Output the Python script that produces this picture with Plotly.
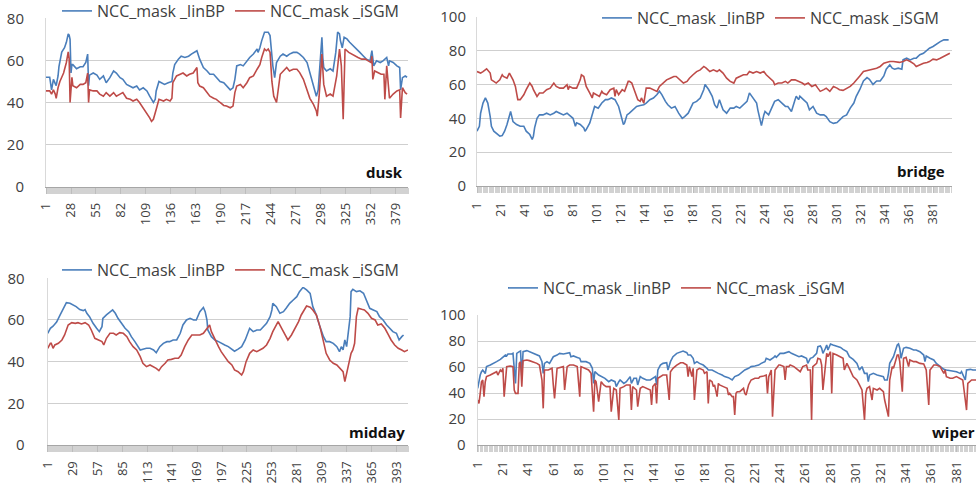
import plotly.graph_objects as go

# ---------------- data (frame index, NCC value) ----------------
dusk_ticks = [1, 28, 55, 82, 109, 136, 163, 190, 217, 244, 271, 298, 325, 352, 379]
bridge_ticks = [1, 21, 41, 61, 81, 101, 121, 141, 161, 181, 201, 221, 241, 261, 281, 301, 321, 341, 361, 381]
midday_ticks = [1, 29, 57, 85, 113, 141, 169, 197, 225, 253, 281, 309, 337, 365, 393]
wiper_ticks = [1, 21, 41, 61, 81, 101, 121, 141, 161, 181, 201, 221, 241, 261, 281, 301, 321, 341, 361, 381]

series_names = ["NCC_mask _linBP", "NCC_mask _iSGM"]

dusk_linbp = [(1,52),(5,52),(7,46),(9,51),(11,49),(12,48),(14,52.6),(15,57),(18,64),(20,65),(21,66),(23,68.6),(25,72.6),(26,72),(27,70),(28,54),(29,58),(30,58),(34,56),(38,57),(41,57),(44,59),(46,63),(47,48),(48,53),(52,54),(56,53),(59,51),(63,52.6),(66,49.4),(70,51.8),(74,55),(77,54),(81,51.8),(84,51),(88,48.6),(92,47.8),(95,47),(99,47.8),(102,46),(106,47),(110,45.5),(113,43),(115,41.5),(117,40),(119,41.5),(120,45.5),(123,50),(126,49.4),(129,48.6),(133,49.4),(137,50),(138,54),(140,58),(144,60.6),(147,62),(151,61.4),(155,62),(158,63),(162,64),(164,64.6),(167,60.6),(171,56.6),(175,55),(178,53.4),(182,53.4),(185,51.8),(189,50),(193,49.4),(196,47.8),(200,46),(203,47),(205,51),(207,57.4),(211,58),(214,57.4),(218,59.8),(221,61.4),(225,63),(229,65.4),(230,63.8),(232,66),(234,69.4),(236,71.8),(237,73.4),(239,73.4),(241,73.4),(243,71.8),(244,65.4),(246,57.4),(248,51.8),(250,59),(254,62),(257,63),(261,62),(264,63),(268,63.8),(272,63.8),(275,63),(279,61.4),(283,59),(286,54.2),(290,48.6),(292,45.5),(293,43),(295,46),(297,59),(299,71),(300,61.4),(301,56.6),(304,55),(308,56),(311,55),(314,63.8),(316,73.4),(318,72.6),(319,69.4),(321,66),(323,71),(326,70.2),(329,68.6),(333,67),(337,65.4),(340,63.8),(344,62),(347,60.6),(351,59.8),(353,64.6),(355,57.4),(358,59.8),(362,59),(365,59.8),(369,61.4),(371,57.4),(372,59.8),(376,59),(380,57.4),(383,56.6),(384,46),(386,51.8),(389,52.6),(391,52)]
dusk_isgm = [(1,45.5),(5,45.5),(7,44),(9,46),(11,44),(12,42),(14,47),(16,50),(20,54),(23,59),(25,64),(26,61),(27,40),(29,52),(30,48),(34,47),(38,48.6),(41,48.6),(44,49.4),(46,54),(47,40),(48,46),(52,45.5),(56,45.5),(59,44),(63,43),(66,44.7),(70,43),(74,44.7),(77,43),(81,44),(84,44.7),(88,42),(92,41.5),(95,40.7),(99,41.5),(102,40),(106,37.5),(110,35),(113,32.7),(115,31),(117,32),(120,36.7),(123,41.5),(128,40.7),(131,41.5),(135,40.7),(137,42),(138,49.4),(142,52.6),(146,53.4),(149,54),(153,52.6),(156,53.4),(160,54),(164,56.6),(165,49.4),(167,47.8),(171,47),(175,44.7),(178,43),(182,42),(185,41.5),(189,40),(193,38.6),(196,38.3),(200,37.5),(203,38.3),(205,44.7),(207,47.8),(211,48.6),(214,47),(218,49.4),(221,51.8),(225,52.6),(229,55.8),(232,58),(234,61.4),(236,63.8),(237,65.4),(239,64.6),(241,65.4),(243,63.8),(245,50),(247,43),(250,40),(254,53.4),(257,55),(261,56.6),(264,55),(268,55.8),(272,55.8),(275,54.2),(279,51),(283,46),(286,42),(290,39),(293,36),(294,33.5),(296,43),(299,63),(301,48.6),(304,43),(308,44),(311,43),(315,52.6),(318,65.4),(320,57.4),(322,32),(324,65.4),(328,63.8),(331,63),(335,62),(338,61.4),(342,60.6),(346,60.6),(349,59.8),(352,59),(353,62),(354,51),(356,55),(360,54.2),(363,53.4),(366,53.4),(367,41.5),(369,57.4),(372,42),(376,44),(380,45.5),(383,46),(384,32.7),(386,47),(389,44.7),(391,44)]

bridge_linbp = [(1,32.4),(3,35.3),(4,43),(6,49),(8,52),(10,49),(12,41),(13,35.3),(15,32.4),(17,31.4),(20,29.4),(22,29.8),(24,32.4),(26,36.3),(28,42),(29,44),(31,38),(34,36.3),(37,35.3),(40,35.3),(42,32.4),(45,30.4),(47,27.5),(48,29.4),(49,34.3),(51,40),(53,42),(56,42),(59,43),(62,42),(65,43),(67,44),(70,43),(73,42),(76,43),(78,42),(81,40),(83,35.3),(84,37.3),(87,36.3),(90,34.3),(91,32.4),(92,33.3),(95,37.3),(98,45),(99,47),(102,46),(105,49),(108,51),(110,51),(113,52),(116,51),(119,47),(121,41),(123,36.3),(124,37.3),(126,42),(128,43),(131,45),(134,47),(137,47.5),(140,48),(142,49),(145,51),(148,52),(151,54),(153,56),(155,54),(158,50),(160,48),(163,46),(166,47),(169,43),(172,40),(174,41),(177,43),(181,49),(184,50),(187,52),(190,57),(191,60),(194,57),(197,53),(199,48),(201,46),(202,49),(203,51),(205,47),(206,45),(209,43),(212,46),(215,46),(217,47),(220,46),(223,48),(226,50),(228,55),(231,52),(234,49),(235,45),(237,39),(238,35.7),(240,42),(241,44),(244,42),(247,47),(249,50),(252,51),(255,49),(258,47),(260,47),(263,44),(266,51),(267,53),(269,51),(270,53),(273,51),(276,49),(278,45),(281,47),(284,43),(287,42),(290,42),(292,41),(295,38),(298,37),(301,37.5),(303,39),(306,41),(309,42),(312,46),(315,49),(317,53),(320,57),(323,62),(326,64),(328,63),(331,60),(334,62),(337,62),(340,65),(342,69),(345,71.6),(347,69.6),(349,69),(352,69.6),(355,69),(356,74.5),(359,75.5),(362,74.5),(365,75.5),(367,75.5),(370,77.5),(373,78.4),(376,80.4),(378,81.4),(381,82.4),(384,84),(387,85.3),(390,86.3),(394,86.3)]
bridge_isgm = [(1,67.6),(4,66.7),(6,67.6),(9,69.2),(12,66.7),(13,62.7),(15,61.8),(17,60.8),(20,62.7),(22,65.7),(23,64.7),(26,63.7),(28,66.7),(31,62.7),(33,58.8),(34,54.9),(35,51),(37,51),(40,53.9),(42,56.9),(45,60.8),(47,58.8),(48,56.9),(51,52.9),(53,54.9),(56,54.9),(59,56.9),(62,57.8),(65,60.8),(67,58.8),(70,57.8),(73,57.8),(76,59.8),(77,56.9),(78,58.8),(81,57.8),(84,57.8),(87,62.7),(88,65.7),(90,64.7),(91,60.8),(92,58.8),(95,54.9),(97,52),(98,54.9),(101,53.9),(103,52.9),(105,55.9),(106,54.9),(109,53.9),(112,56.9),(115,57.8),(116,52.9),(117,56.9),(119,53.9),(120,54.9),(122,56.9),(124,55.9),(127,61.8),(128,61.8),(130,60.8),(131,58.8),(133,54.9),(134,52.9),(135,51),(137,50),(138,52),(140,49),(141,53.9),(142,57.8),(145,57.8),(148,56.9),(151,55.9),(153,58.8),(156,60.8),(159,62.7),(162,63.7),(165,64.7),(167,64.7),(170,62.7),(173,60.8),(176,61.8),(178,63.7),(181,65.7),(184,67.6),(187,68.6),(190,70.6),(192,69.6),(195,67.6),(198,68.6),(201,67.6),(203,68.6),(206,66.7),(209,63.7),(212,61.8),(215,60.8),(217,63.7),(220,64.7),(223,65.7),(226,65.7),(228,67.6),(231,66.7),(234,67.6),(237,66.7),(240,67.6),(242,65.7),(245,63.7),(248,61.8),(249,59.8),(252,60.8),(255,60.8),(258,61.8),(260,60.8),(263,62.7),(266,62.7),(269,61.8),(272,60.8),(274,59.8),(277,60.8),(280,58.8),(283,59.8),(285,57.8),(287,55.9),(290,56.9),(292,57.8),(295,55.9),(298,58.8),(301,57.8),(303,56.9),(306,56.5),(309,57.8),(312,58.8),(315,60.8),(317,62.7),(320,65),(323,67.6),(326,68.2),(328,68.2),(331,69),(334,69.6),(337,70.6),(340,72.5),(342,73),(345,73.5),(348,73.5),(351,73),(353,73),(356,73.5),(359,74.5),(362,73.5),(365,72.2),(367,70.6),(370,71.6),(373,72.5),(376,73),(378,73.5),(381,74.9),(384,74.5),(387,75.5),(390,76.5),(392,77.5),(395,78.4)]

midday_linbp = [(1,53.6),(4,56),(7,57),(11,59),(15,62.4),(19,65.6),(22,68.3),(26,68),(30,67.2),(33,66.4),(37,65),(41,64.5),(43,65),(45,63.2),(48,61.6),(52,58.4),(56,56),(59,54.4),(62,56.8),(63,60.8),(67,62.4),(71,64),(74,64.8),(77,63.2),(80,60.8),(84,58.4),(88,56),(92,54.4),(95,52),(99,49.6),(103,47.2),(105,45.6),(108,46),(112,46.4),(116,46.4),(120,45.6),(123,44.3),(127,47.2),(131,48.8),(135,49.6),(138,49.6),(142,50.4),(146,50.4),(150,53.6),(153,57.6),(157,60),(161,60.8),(165,60),(168,60),(172,64),(176,66),(178,64),(180,60),(181,55.2),(185,52),(189,50.4),(193,49.6),(196,48.8),(200,48),(204,47.2),(208,46),(211,45),(215,46),(219,47.2),(223,50.4),(226,54.4),(228,56),(232,54.4),(236,55.2),(240,55.2),(243,56.8),(247,58.4),(251,61.6),(253,64.8),(254,68),(258,66.4),(262,63.2),(266,64),(269,65.6),(273,68),(277,69.6),(281,71.2),(284,73.6),(288,75.7),(292,74.4),(296,72.8),(299,66.4),(303,62.4),(307,56.8),(311,52),(314,49.6),(318,49.6),(322,48.8),(326,47.2),(329,44.8),(331,47.2),(333,45.6),(335,50.4),(337,47.2),(341,61.6),(342,73.6),(344,74.7),(348,73.6),(352,74),(356,72.8),(359,69.6),(363,65.6),(367,64.8),(371,64),(374,61.6),(378,60),(382,57.6),(386,56),(389,54.4),(393,53.6),(396,50.4),(399,52),(401,52.8)]
midday_isgm = [(1,46.4),(4,48.8),(5,48.8),(7,46.4),(9,48),(13,48.8),(17,50.4),(20,52.8),(24,57.6),(28,58.7),(32,58.4),(35,58.7),(39,58.1),(43,58.7),(47,57.6),(50,55.2),(54,51.2),(58,50.4),(62,49.6),(64,48),(67,51.2),(71,53.6),(75,53.6),(78,52.8),(82,53.9),(86,53.6),(90,52),(93,49.6),(97,47.2),(101,45.6),(105,42.4),(108,39.2),(112,37.6),(116,38.4),(120,37.6),(123,36.8),(126,35.7),(129,37.6),(133,39.2),(136,40.8),(140,41.1),(144,41.6),(148,41.6),(151,43.2),(155,47.2),(159,50.4),(163,52.8),(166,52.8),(170,52.8),(172,52.8),(176,53.6),(180,56),(183,57.6),(185,54.4),(189,50.4),(193,47.2),(196,44.8),(200,42.4),(204,40),(208,38.4),(211,36),(215,35.2),(219,33.6),(221,35.2),(224,40),(228,44),(232,45.6),(236,44.8),(240,45.6),(243,46.4),(247,48),(251,51.2),(254,54.4),(258,57.6),(260,59.2),(264,56),(268,52.8),(271,50.4),(275,52.8),(279,56),(283,59.2),(286,62.4),(290,65.6),(292,66.7),(296,66.1),(299,64.8),(303,62.4),(307,56.8),(311,49.6),(314,44),(318,40.8),(322,39.2),(326,38.4),(329,36.8),(333,35.2),(335,30.4),(337,34.4),(339,37.6),(341,42.4),(342,44),(344,45.6),(346,48.8),(348,61.6),(350,65.6),(354,65.1),(357,64.8),(361,63.2),(365,60.8),(369,60),(372,57.6),(376,58.1),(380,56),(384,52.8),(387,50.4),(391,48),(395,46.4),(399,45.6),(402,44.8),(406,45.6)]

wiper_linbp = [(1,43.6),(2,50),(3,53.8),(4,56.4),(5,57.7),(7,55),(8,60.3),(11,61.5),(13,62.8),(16,64.1),(19,65.9),(21,67.4),(23,69.2),(24,68.5),(25,70),(28,70),(29,70.5),(31,47.4),(32,70.5),(34,71.8),(35,72.3),(36,52.6),(37,71.8),(40,72.6),(42,71.8),(45,70.5),(48,69.2),(50,68.5),(52,64.1),(53,55),(54,62.8),(56,64.1),(58,62.8),(61,67.9),(64,69.2),(66,70.5),(69,70),(72,70.5),(74,71),(75,67.9),(77,68.5),(80,67.4),(82,66.7),(83,64.1),(85,64.1),(87,64.1),(90,62.8),(92,59),(93,47.4),(94,56.4),(97,53.8),(99,52.6),(102,51.3),(105,48.7),(107,50),(110,48.7),(111,44.9),(113,48.7),(114,50),(117,47.4),(119,48.7),(122,52.6),(123,47.4),(125,51.3),(127,51.3),(128,46.2),(130,52.6),(132,51.3),(135,50),(138,50),(140,51.3),(142,52.6),(143,46.2),(144,57.7),(146,61.5),(148,62.8),(151,63.3),(152,57.7),(154,64.1),(156,67.9),(159,70.5),(162,71.8),(164,72.3),(167,71),(168,69.2),(170,69.2),(172,66.7),(173,62.8),(175,64.1),(177,62.8),(180,61.5),(183,59),(184,57.7),(187,57.7),(189,56.4),(192,55.1),(195,53.8),(197,52.6),(200,51.8),(203,50),(204,51.3),(205,52.6),(208,53.8),(211,56.4),(213,57.7),(216,59),(218,60.3),(221,60.8),(224,61.5),(226,62.8),(229,64.1),(230,66.7),(233,65.4),(236,67.4),(237,68.5),(238,67.4),(240,69.2),(241,70.5),(244,70.5),(246,71),(248,71.8),(250,70.5),(253,69.2),(256,67.9),(258,68.5),(261,67.4),(262,66.7),(263,62.8),(265,66.7),(267,67.4),(270,70.5),(271,75.6),(273,76.2),(274,74.4),(275,70.5),(277,74.4),(278,76.9),(279,73.1),(281,77.7),(283,76.9),(286,76.2),(289,75.1),(291,73.6),(294,71.8),(296,67.9),(299,65.9),(302,62.8),(303,60.3),(304,57.7),(306,60.3),(307,57.7),(308,55.1),(310,55.1),(311,48.7),(312,53.8),(315,55.1),(318,53.8),(320,53.1),(323,52.6),(324,50),(326,50),(327,55.1),(328,62.8),(331,67.9),(334,76.9),(335,77.7),(336,74.4),(337,66.7),(339,74.4),(341,75.1),(344,74.4),(347,73.1),(349,73.1),(352,71.8),(355,69.2),(356,64.1),(357,68.5),(360,66.7),(363,65.4),(365,62.8),(368,60.3),(371,58.2),(373,57.7),(376,57.2),(378,56.4),(381,56.4),(384,55.1),(385,56.4),(388,50),(389,57.7),(392,58.2),(394,57.7),(397,57.7)]
wiper_isgm = [(1,34.6),(2,32),(3,39.7),(4,48.7),(5,50),(6,37.2),(7,48.7),(8,52.6),(11,53.8),(13,55.1),(16,56.4),(17,53.8),(19,57.7),(20,56.4),(21,59),(22,37.2),(24,60.3),(27,60.8),(29,60.3),(30,42.3),(31,39.7),(33,39.7),(34,62.8),(35,64.1),(36,44.9),(37,64.9),(40,65.4),(42,64.9),(45,64.1),(48,62.8),(50,61.5),(52,50),(53,28.2),(54,57.7),(57,57.7),(60,59),(61,46.2),(62,35.9),(64,59),(66,59.7),(69,60.3),(70,42.3),(72,60.3),(74,61.5),(77,61.5),(80,60.3),(82,37.2),(83,60.3),(86,59),(89,57.7),(91,55.1),(93,25.6),(94,50),(95,48.7),(97,33.3),(99,48.7),(101,46.2),(103,44.9),(106,44.9),(107,25.6),(109,43.6),(111,42.3),(113,19.2),(114,43.6),(117,44.9),(119,46.2),(122,46.2),(123,26.9),(124,44.9),(127,42.3),(128,29.5),(130,43.6),(132,44.9),(135,43.6),(138,42.3),(139,30.8),(140,44.9),(142,47.4),(143,32),(144,51.3),(146,52.6),(148,53.8),(151,53.8),(153,34.6),(154,56.4),(156,59),(159,61.5),(162,63.3),(164,63.3),(167,61.5),(168,52.6),(169,60.3),(171,52.6),(172,59),(173,34.6),(175,57.7),(177,59),(180,57.7),(181,55.1),(183,56.4),(184,32),(185,50),(187,48.7),(188,44.9),(189,46.2),(191,37.2),(192,47.4),(193,46.2),(196,44.9),(199,43.6),(200,38.5),(201,39.7),(203,37.2),(204,37.2),(205,23.1),(206,39.7),(207,41),(209,41),(212,43.6),(213,39.7),(214,38.5),(216,46.2),(218,50),(221,51.3),(224,51.3),(225,52.6),(228,53.1),(230,53.8),(231,39.7),(232,52.6),(234,57.7),(235,21.8),(237,57.7),(238,59),(240,61.5),(241,61.5),(244,60.3),(245,50),(246,60.3),(248,60.3),(249,61.5),(252,60.3),(254,59),(257,56.4),(259,60.3),(262,61.5),(263,57.7),(265,57.7),(266,19.2),(267,60.3),(270,62.8),(271,66.7),(273,65.9),(274,61.5),(275,42.3),(277,62.8),(278,70.5),(279,67.9),(281,71.8),(282,39.7),(283,70.5),(286,69.2),(289,67.9),(291,66.7),(292,57.7),(294,62.8),(296,59),(298,55.1),(299,52.6),(302,50),(303,47.4),(304,46.2),(306,42.3),(307,33.3),(308,19.2),(309,39.7),(310,43.6),(312,44.9),(314,34.6),(315,43.6),(318,42.3),(320,43.6),(323,41),(324,34.6),(326,24.4),(327,21.8),(328,50),(330,60.3),(331,59),(334,69.2),(335,69.2),(336,64.1),(338,41),(339,66.7),(341,67.4),(343,60.3),(344,65.4),(347,64.1),(349,64.1),(352,62.8),(355,62.3),(357,57.7),(359,30.8),(360,57.7),(363,61.5),(365,61.5),(368,60.3),(371,55.1),(372,57.7),(373,52.6),(376,51.3),(378,51.3),(381,52.6),(384,51.3),(386,50),(388,34.6),(389,26.9),(390,47.4),(393,50),(397,50)]

# ---------------- styling / layout ----------------
W, H = 976, 490
BLUE = "#4a7ebb"
RED = "#be4b48"
FONT = "Open Sans"
TXT = "#404040"


def dom_x(a, b):
    return [a / W, min(b / W, 1.0)]


def dom_y(top, bottom):
    return [1 - bottom / H, 1 - top / H]


panels = [
    dict(label="dusk", lin=dusk_linbp, isgm=dusk_isgm, ticks=dusk_ticks, ymax=80,
         xd=(46, 408), yd=(18.3, 186.7), xr=(1, 392), stand=18,
         leg=(57, 11), lab=(405, 172, "right")),
    dict(label="bridge", lin=bridge_linbp, isgm=bridge_isgm, ticks=bridge_ticks, ymax=100,
         xd=(477, 952), yd=(16.7, 186), xr=(1, 396.8), stand=7,
         leg=(597, 18), lab=(947, 171, "right")),
    dict(label="midday", lin=midday_linbp, isgm=midday_isgm, ticks=midday_ticks, ymax=80,
         xd=(47.7, 408), yd=(278.3, 445), xr=(1, 406), stand=19,
         leg=(57, 270), lab=(407, 432, "right")),
    dict(label="wiper", lin=wiper_linbp, isgm=wiper_isgm, ticks=wiper_ticks, ymax=100,
         xd=(477.7, 976), yd=(315, 445), xr=(1, 396.5), stand=8,
         leg=(503, 288), lab=(930, 432, "left")),
]

fig = go.Figure()
layout = dict(width=W, height=H, margin=dict(l=0, r=0, t=0, b=0, autoexpand=False), autosize=False,
              paper_bgcolor="white", plot_bgcolor="white",
              font=dict(family=FONT, color=TXT), annotations=[])

for k, p in enumerate(panels, start=1):
    sfx = "" if k == 1 else str(k)
    xa, ya = "x" + sfx, "y" + sfx
    legname = "legend" + sfx
    for name, data, col in ((series_names[0], p["lin"], BLUE), (series_names[1], p["isgm"], RED)):
        fig.add_trace(go.Scatter(
            x=[d[0] for d in data], y=[d[1] for d in data], mode="lines", name=name,
            line=dict(color=col, width=1.6), xaxis=xa, yaxis=ya, legend=legname,
            hoverinfo="skip"))
    layout["xaxis" + sfx] = dict(
        domain=dom_x(*p["xd"]), anchor=ya, range=list(p["xr"]),
        tickmode="array", tickvals=p["ticks"], ticktext=[str(t) for t in p["ticks"]],
        tickangle=-90, tickfont=dict(size=13, color=TXT, family=FONT),
        ticks="outside", ticklen=6, tickcolor="#bdbdbd", tickwidth=1,
        minor=dict(tickmode="linear", tick0=1, dtick=1, ticks="outside", ticklen=6,
                   tickcolor="#d2d2d2", tickwidth=1, showgrid=False),
        showline=True, linecolor="#a6a6a6", linewidth=1, showgrid=False, zeroline=False,
        ticklabelstandoff=4, fixedrange=True, automargin=False)
    layout["yaxis" + sfx] = dict(
        domain=dom_y(*p["yd"]), anchor=xa, range=[0, p["ymax"]], dtick=20, tick0=0,
        tickfont=dict(size=15, color=TXT, family=FONT), ticks="",
        showgrid=True, gridcolor="#cfcfcf", gridwidth=1,
        showline=True, linecolor="#d9d9d9", linewidth=1, zeroline=False,
        ticklabelstandoff=p["stand"], fixedrange=True, automargin=False)
    lx, ly = p["leg"]
    layout[legname] = dict(
        orientation="h", x=lx / W, y=1 - ly / H, xanchor="left", yanchor="middle",
        bgcolor="white", borderwidth=0, itemwidth=30, tracegroupgap=0,
        font=dict(family=FONT, size=16, color=TXT))
    ax, ay, anc = p["lab"]
    layout["annotations"].append(dict(
        text="<b>%s</b>" % p["label"], xref="paper", yref="paper",
        x=ax / W, y=1 - ay / H, xanchor=anc, yanchor="middle", showarrow=False,
        font=dict(family=FONT, size=15, color="#111111")))

fig.update_layout(**layout)
fig.write_html("out.html", config={"displayModeBar": False},
               post_script="document.body.style.margin='0px';document.body.style.overflow='hidden';")
